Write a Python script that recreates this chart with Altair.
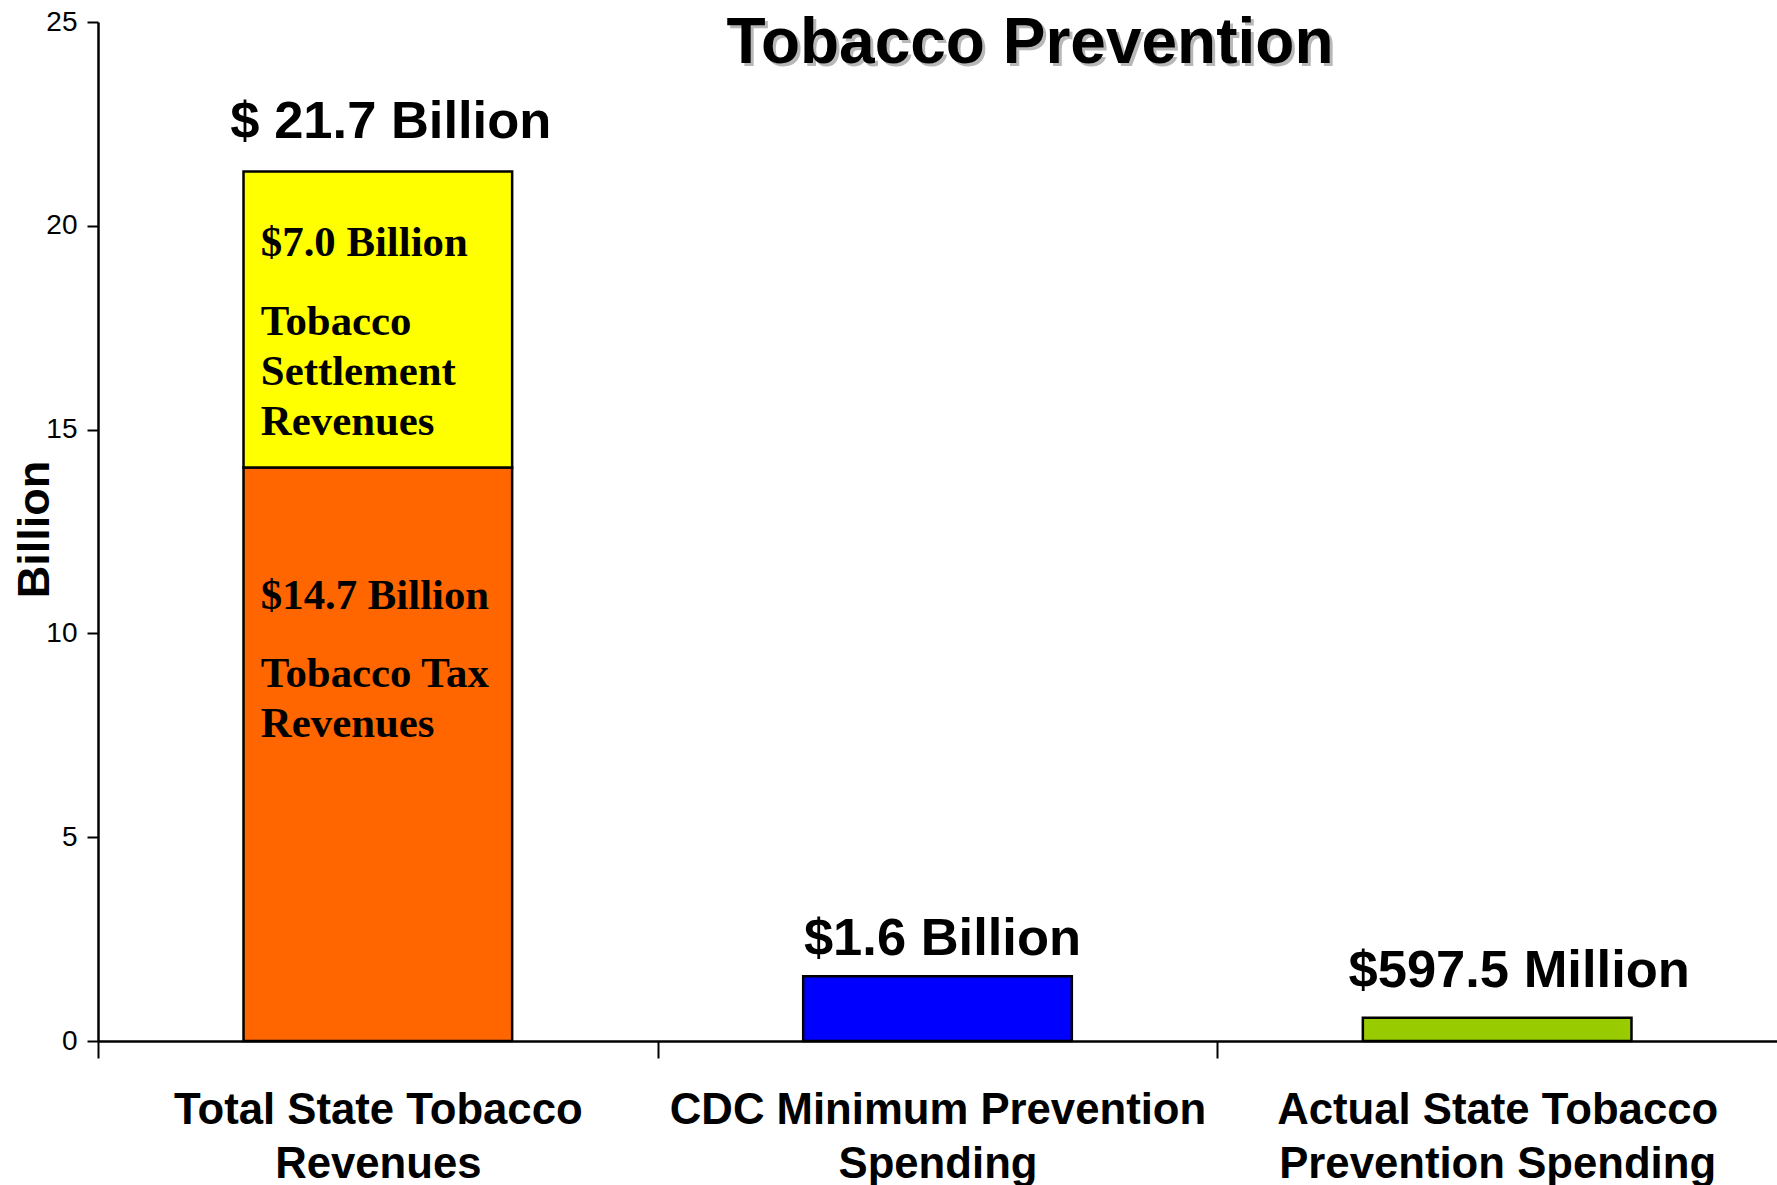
import altair as alt
import pandas as pd

# ---- data ----
categories = ["Total State Tobacco Revenues",
              "CDC Minimum Prevention Spending",
              "Actual State Tobacco Prevention Spending"]
category_lines = [["Total State Tobacco", "Revenues"],
                  ["CDC Minimum Prevention", "Spending"],
                  ["Actual State Tobacco", "Prevention Spending"]]
segments = ["Tobacco Tax Revenues", "Tobacco Settlement Revenues",
            "CDC Minimum Prevention Spending", "Actual Prevention Spending"]
segment_category = [categories[0], categories[0], categories[1], categories[2]]
segment_values = [14.07, 7.26, 1.59, 0.57]
segment_order = [0, 1, 0, 0]
segment_colors = ["#FF6600", "#FFFF00", "#0000FF", "#99CC00"]
total_labels = ["$ 21.7 Billion", "$1.6 Billion", "$597.5 Million"]
inner_segments = ["Tobacco Tax Revenues", "Tobacco Settlement Revenues"]
inner_amounts = ["$14.7 Billion", "$7.0 Billion"]
inner_desc = [["Tobacco Tax", "Revenues"], ["Tobacco", "Settlement", "Revenues"]]
y_ticks = [0, 5, 10, 15, 20, 25]
title_text = "Tobacco Prevention"
y_title = "Billion"

# ---- tables built from the arrays ----
bars = pd.DataFrame({"category": segment_category, "segment": segments,
                     "value": segment_values, "order": segment_order})
totals = bars.groupby("category", sort=False)["value"].sum().reindex(categories).reset_index()
totals["label"] = total_labels

bars_sorted = bars.sort_values(["category", "order"])
bars_sorted["top"] = bars_sorted.groupby("category")["value"].cumsum()
inner = bars_sorted[bars_sorted["segment"].isin(inner_segments)].copy()
inner["amount"] = [inner_amounts[inner_segments.index(s)] for s in inner["segment"]]
inner["desc"] = [inner_desc[inner_segments.index(s)] for s in inner["segment"]]

label_expr = " : ".join(
    f"datum.label == '{c}' ? {lines!r}" for c, lines in zip(categories, category_lines)
) + " : datum.label"

SANS = "Liberation Sans, Arial, sans-serif"
SERIF = "Liberation Serif, Times New Roman, serif"

W = 1679
STEP = W / len(categories)

x_enc = alt.X("category:N", sort=categories,
              scale=alt.Scale(domain=categories, paddingInner=0.52, paddingOuter=0.26),
              axis=alt.Axis(title=None, labelExpr=label_expr, labelAngle=0,
                            labelFont=SANS, labelFontSize=43.7, labelFontWeight="bold",
                            labelColor="black", labelBaseline="alphabetic",
                            labelPadding=65, labelLineHeight=54, labelLimit=800,
                            labelOverlap=False, tickSize=17, tickWidth=2,
                            tickColor="black", tickOffset=-STEP / 2,
                            labelOffset=STEP / 2,
                            domainColor="black", domainWidth=2.5, grid=False))

y_enc = alt.Y("value:Q", stack="zero",
              scale=alt.Scale(domain=[0, 25], nice=False),
              axis=alt.Axis(values=y_ticks, title=y_title, titleFont=SANS,
                            titleFontSize=45, titleFontWeight="bold", titleColor="black",
                            titleAngle=270, titleX=-50, titleY=507,
                            titleAlign="center", titleBaseline="alphabetic",
                            labelFont=SANS, labelFontSize=28, labelColor="black",
                            labelPadding=10, tickSize=11, tickWidth=2,
                            tickColor="black", domainColor="black",
                            domainWidth=2.5, grid=False))

bar_layer = alt.Chart(bars).mark_bar(stroke="black", strokeWidth=2.5).encode(
    x=x_enc,
    y=y_enc,
    color=alt.Color("segment:N", scale=alt.Scale(domain=segments, range=segment_colors),
                    legend=None),
    order=alt.Order("order:Q"),
)

offsets = {categories[0]: (13, -34), categories[1]: (5, -21), categories[2]: (22, -31)}
total_layers = []
for cat in categories:
    dx, dy = offsets[cat]
    total_layers.append(
        alt.Chart(totals[totals["category"] == cat]).mark_text(
            font=SANS, fontSize=52.5, fontWeight="bold", color="black",
            align="center", baseline="alphabetic", dx=dx, dy=dy
        ).encode(x=alt.X("category:N", sort=categories), y=alt.Y("value:Q"), text="label:N")
    )

inner_offsets = {"Tobacco Tax Revenues": (141, 219), "Tobacco Settlement Revenues": (84, 163)}
inner_layers = []
for seg in inner_segments:
    a_dy, d_dy = inner_offsets[seg]
    sub = inner[inner["segment"] == seg]
    inner_layers.append(
        alt.Chart(sub).mark_text(font=SERIF, fontSize=42.8, fontWeight="bold", color="black",
                                 align="left", baseline="alphabetic", dx=-117, dy=a_dy
                                 ).encode(x=alt.X("category:N", sort=categories),
                                          y=alt.Y("top:Q"), text="amount:N"))
    inner_layers.append(
        alt.Chart(sub).mark_text(font=SERIF, fontSize=42.8, fontWeight="bold", color="black",
                                 align="left", baseline="alphabetic", dx=-117, dy=d_dy,
                                 lineHeight=50
                                 ).encode(x=alt.X("category:N", sort=categories),
                                          y=alt.Y("top:Q"), text="desc"))

title_df = pd.DataFrame({"t": [title_text]})
title_shadow = alt.Chart(title_df).mark_text(
    font=SANS, fontSize=64, fontWeight="bold", color="#b8b8b8",
    align="center", baseline="alphabetic"
).encode(x=alt.value(935), y=alt.value(44), text="t:N")
title_main = alt.Chart(title_df).mark_text(
    font=SANS, fontSize=64, fontWeight="bold", color="black",
    align="center", baseline="alphabetic"
).encode(x=alt.value(932), y=alt.value(41), text="t:N")

chart = alt.layer(bar_layer, *total_layers, *inner_layers, title_shadow, title_main).properties(
    width=W, height=1019,
    autosize=alt.AutoSizeParams(type="none"),
    padding={"left": 98, "top": 22, "right": 0, "bottom": 144},
    background="white",
).configure_view(stroke=None)

chart.save("out.html", embed_options={"renderer": "svg", "actions": False})
